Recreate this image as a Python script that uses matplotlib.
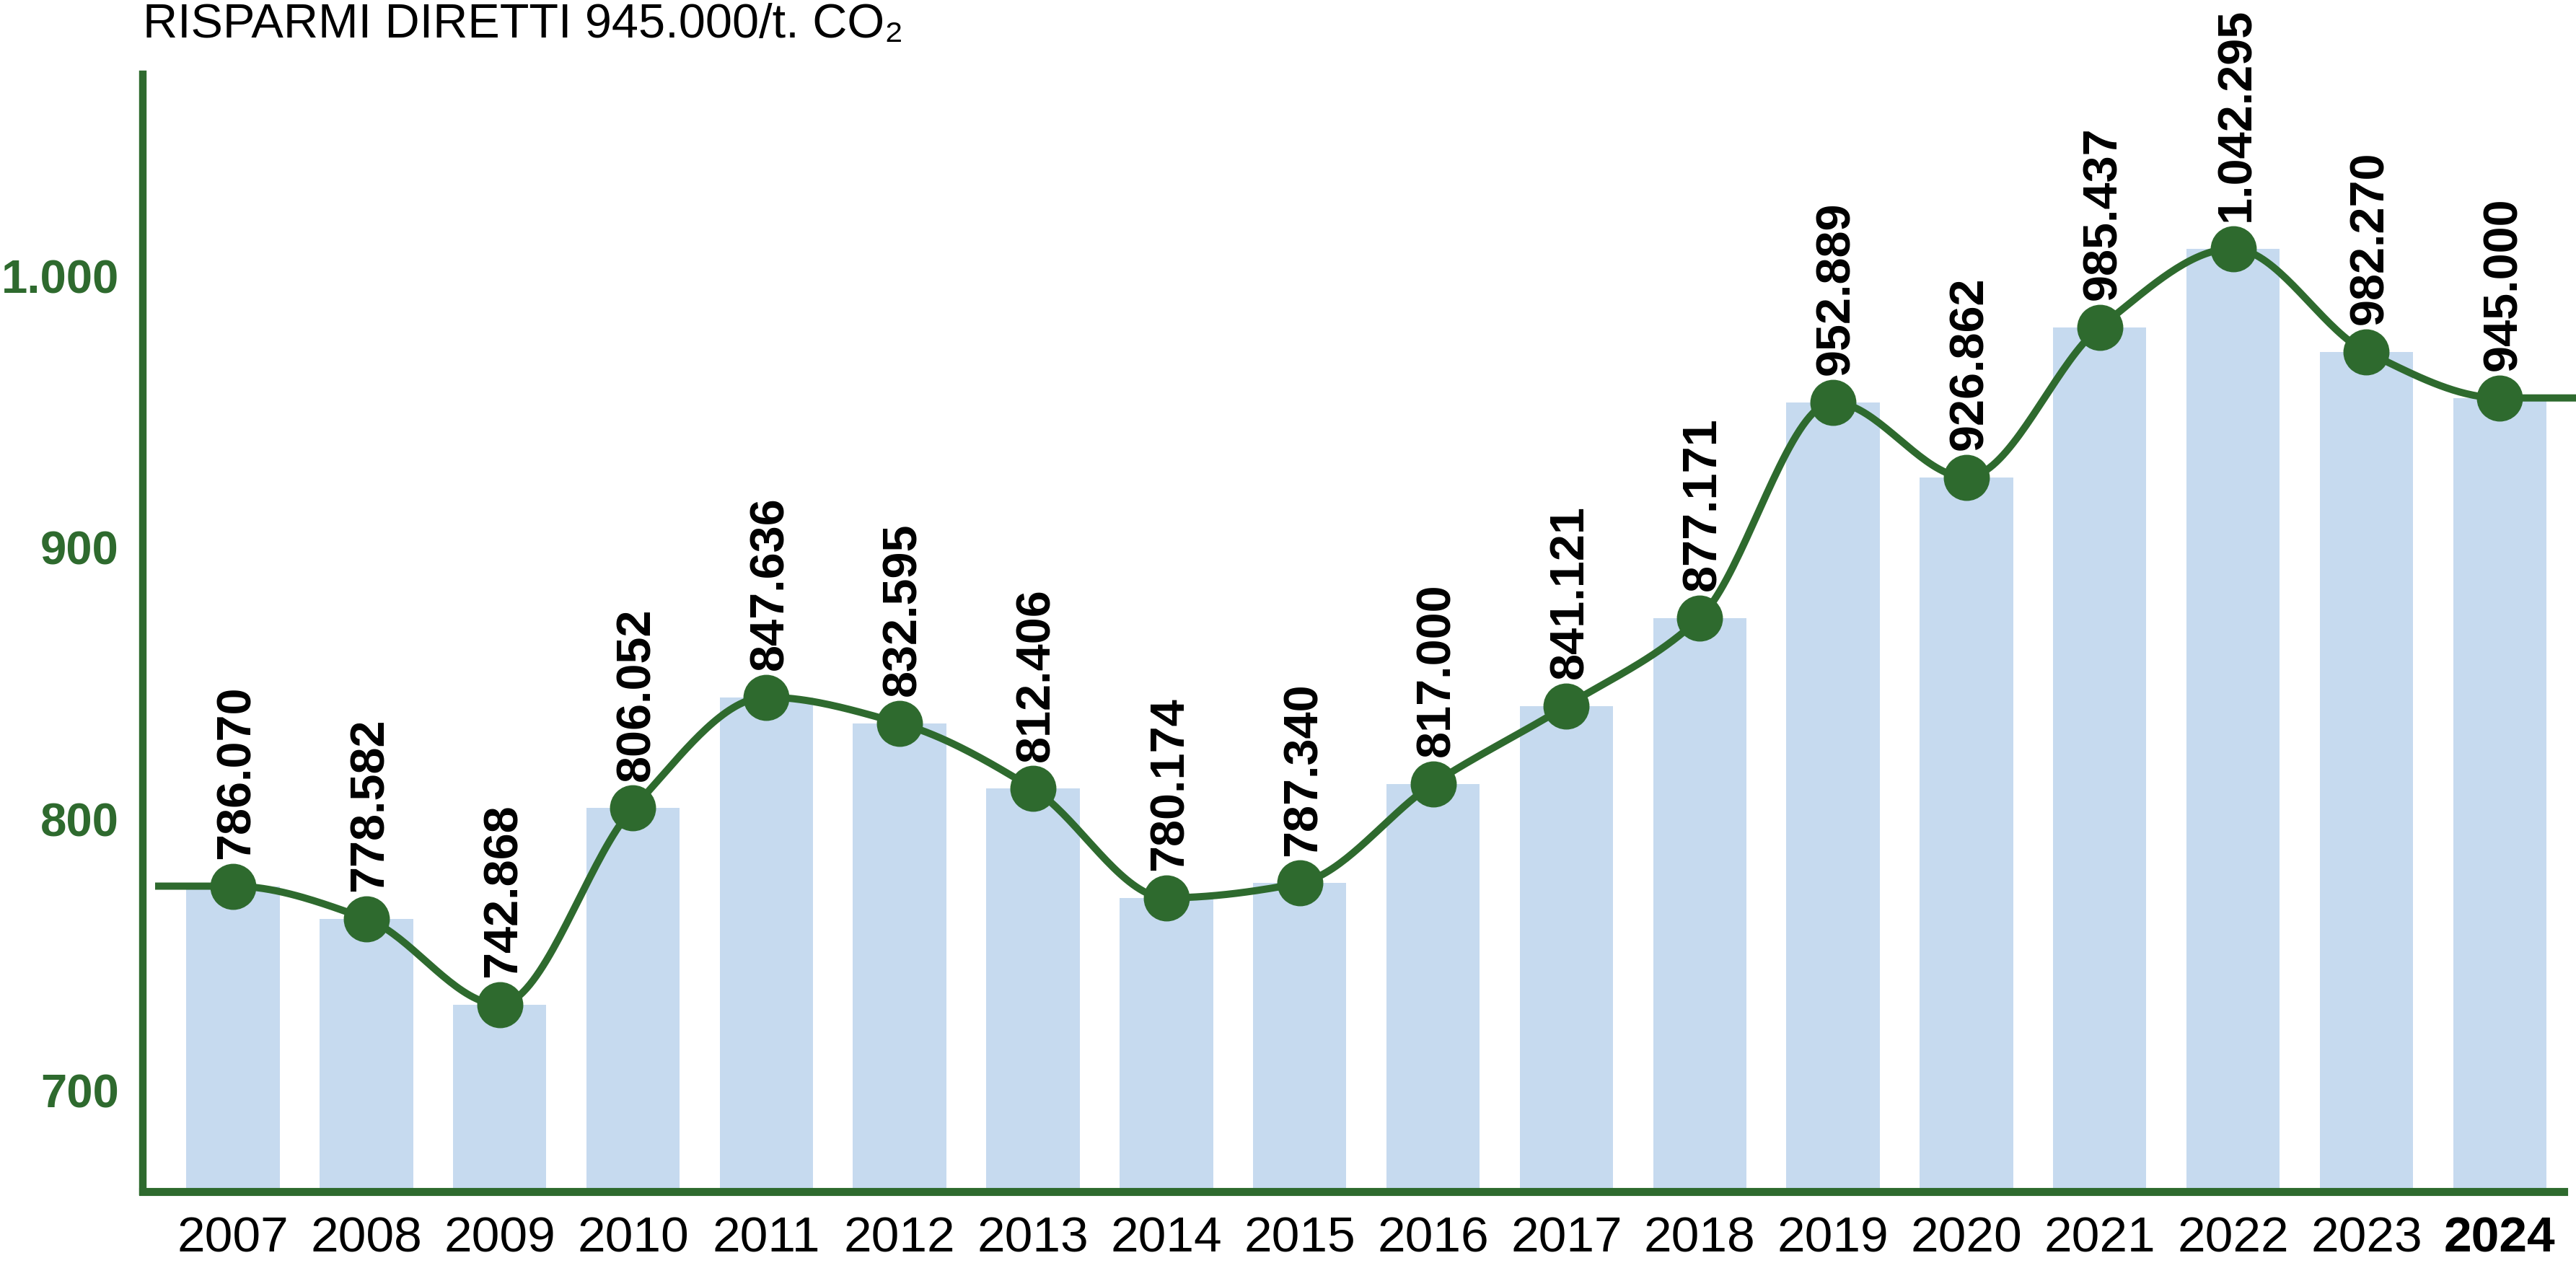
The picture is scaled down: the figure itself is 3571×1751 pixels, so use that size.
import numpy as np
import matplotlib
matplotlib.use("Agg")
import matplotlib.pyplot as plt

# --- dati ---------------------------------------------------------------
anni = ["2007", "2008", "2009", "2010", "2011", "2012", "2013", "2014", "2015",
        "2016", "2017", "2018", "2019", "2020", "2021", "2022", "2023", "2024"]
altezze = [775.3, 763.3, 731.7, 804.0, 844.9, 835.3, 811.2, 771.0, 776.4,
           813.0, 841.7, 874.1, 953.5, 925.9, 981.1, 1010.1, 972.1, 955.1]
# etichette riportate sopra ai punti
etichette = ["786.070", "778.582", "742.868", "806.052", "847.636", "832.595",
             "812.406", "780.174", "787.340", "817.000", "841.121", "877.171",
             "952.889", "926.862", "985.437", "1.042.295", "982.270", "945.000"]
yticks = [700, 800, 900, 1000]
ytick_labels = ["700", "800", "900", "1.000"]
titolo = "RISPARMI DIRETTI 945.000/t. CO\u2082"

VERDE = "#2e6a2e"
AZZURRO = "#c6daef"


def monotona(x, y, n=40):
    """spline cubica monotona (Fritsch-Carlson), tangenti nulle agli estremi"""
    x = np.asarray(x, float)
    y = np.asarray(y, float)
    h = np.diff(x)
    d = np.diff(y) / h
    m = np.zeros_like(y)
    for i in range(1, len(y) - 1):
        if d[i - 1] * d[i] > 0:
            w1 = 2 * h[i] + h[i - 1]
            w2 = h[i] + 2 * h[i - 1]
            m[i] = (w1 + w2) / (w1 / d[i - 1] + w2 / d[i])
    xs, ys = [], []
    for i in range(len(x) - 1):
        t = np.linspace(0, 1, n, endpoint=False)
        h00 = 2 * t**3 - 3 * t**2 + 1
        h10 = t**3 - 2 * t**2 + t
        h01 = -2 * t**3 + 3 * t**2
        h11 = t**3 - t**2
        xs.append(x[i] + t * h[i])
        ys.append(h00 * y[i] + h10 * h[i] * m[i] + h01 * y[i + 1] + h11 * h[i] * m[i + 1])
    xs.append([x[-1]])
    ys.append([y[-1]])
    return np.concatenate(xs), np.concatenate(ys)


x = np.arange(len(anni))
ymin, ymax = 662.8, 1074.3

fig = plt.figure(figsize=(35.71, 17.51), dpi=100)
ax = fig.add_axes([0.05545, 0.05654, 0.99524 - 0.05545, 0.94118 - 0.05654])

# barre
ax.bar(x, np.array(altezze) - ymin, bottom=ymin, width=0.70, color=AZZURRO, zorder=1)

# curva smussata con code orizzontali
xs, ys = monotona(x, altezze)
xs = np.r_[-0.584, xs, 17.6]
ys = np.r_[ys[0], ys, ys[-1]]
ax.plot(xs, ys, color=VERDE, lw=7.2, zorder=2, clip_on=False, solid_capstyle="butt")
ax.plot(x, altezze, "o", color=VERDE, ms=45, zorder=3, clip_on=False)

for xi, yi, lab in zip(x, altezze, etichette):
    ax.annotate(lab, (xi, yi), xytext=(4, 27), textcoords="offset points",
                rotation=90, ha="center", va="bottom", fontsize=48,
                fontweight="bold", family=["Liberation Sans", "DejaVu Sans"],
                color="black", zorder=4, annotation_clip=False)

ax.set_xlim(-0.676, 17.48)
ax.set_ylim(ymin, ymax)

ax.set_xticks(x)
ax.set_xticklabels(anni, fontsize=50, family=["Liberation Sans", "DejaVu Sans"])
ax.get_xticklabels()[-1].set_fontweight("bold")
ax.set_yticks(yticks)
ax.set_yticklabels(ytick_labels, fontsize=47, fontweight="bold", color=VERDE,
                   family=["Liberation Sans", "DejaVu Sans"])
ax.tick_params(axis="both", length=0)
ax.tick_params(axis="x", pad=24)
ax.tick_params(axis="y", pad=24)

for s in ["top", "right"]:
    ax.spines[s].set_visible(False)
ax.spines["left"].set_color(VERDE)
ax.spines["left"].set_linewidth(7.5)
ax.spines["bottom"].set_color(VERDE)
ax.spines["bottom"].set_linewidth(8)

fig.text(198 / 3571, 1 - 52 / 1751, titolo, fontsize=48, va="baseline", ha="left",
         family=["Liberation Sans Narrow", "Liberation Sans", "DejaVu Sans"],
         color="black")

fig.savefig("out.png", dpi=100)
